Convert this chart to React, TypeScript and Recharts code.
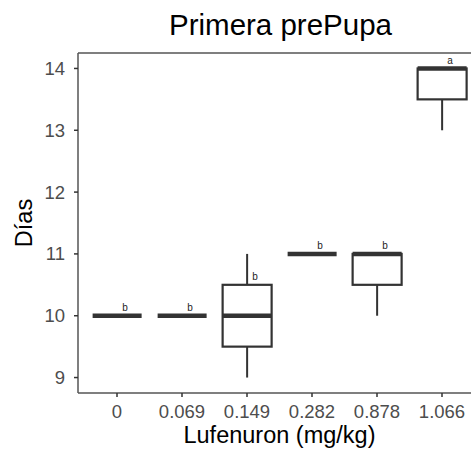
import React from 'react';
import { ComposedChart, Bar, XAxis, YAxis, ReferenceLine, Customized } from 'recharts';

const categories = ['0', '0.069', '0.149', '0.282', '0.878', '1.066'];
const mins = [10, 10, 9, 11, 10, 13];
const q1s = [10, 10, 9.5, 11, 10.5, 13.5];
const medians = [10, 10, 10, 11, 11, 14];
const q3s = [10, 10, 10.5, 11, 11, 14];
const maxs = [10, 10, 11, 11, 11, 14];
const letters = ['b', 'b', 'b', 'b', 'b', 'a'];
const yTicks = [9, 10, 11, 12, 13, 14];
const yDomain: [number, number] = [8.75, 14.25];

const data = categories.map((c, i) => ({
  cat: c,
  min: mins[i],
  q1: q1s[i],
  median: medians[i],
  q3: q3s[i],
  max: maxs[i],
  letter: letters[i],
}));

const FONT = '"Liberation Sans", Arial, Helvetica, sans-serif';
const BOX = '#333333';

const BoxShape = (props: any) => {
  const { x, y, width, height, payload } = props;
  const { min, q1, median, q3, max, letter } = payload;
  const top = Math.min(y, y + height);
  const h = Math.abs(height);
  const span = max - min;
  const toY = (v: number) => (span > 0 ? top + ((max - v) / span) * h : top);
  const cx = x + width / 2;
  const yMin = toY(min), yQ1 = toY(q1), yMed = toY(median), yQ3 = toY(q3), yMax = toY(max);
  return (
    <g>
      {yMax < yQ3 && <line x1={cx} x2={cx} y1={yMax} y2={yQ3} stroke={BOX} strokeWidth={2} />}
      {yQ1 < yMin && <line x1={cx} x2={cx} y1={yQ1} y2={yMin} stroke={BOX} strokeWidth={2} />}
      {yQ1 - yQ3 > 0 && (
        <rect x={x} y={yQ3} width={width} height={yQ1 - yQ3} fill="#ffffff" stroke={BOX} strokeWidth={2.2} />
      )}
      <line x1={x} x2={x + width} y1={yMed} y2={yMed} stroke={BOX} strokeWidth={4.5} />
      <text x={cx + 8} y={yQ3 - 8} textAnchor="middle" dominantBaseline="central" fontSize={10} fill="#222" fontFamily={FONT}>
        {letter}
      </text>
    </g>
  );
};

export default function App() {
  return (
    <div style={{ position: 'absolute', left: 0, top: 0, width: 471, height: 451, overflow: 'hidden', background: '#fff' }}>
      <ComposedChart
        width={481}
        height={451}
        data={data}
        margin={{ top: 53, right: 0, bottom: 0, left: 0 }}
        barCategoryGap="12.5%"
        style={{ fontFamily: FONT }}
      >
        <ReferenceLine y={yDomain[1]} stroke="#555" strokeWidth={1.5} ifOverflow="extendDomain" />
        <XAxis
          dataKey="cat"
          height={58}
          padding={{ left: 6.5, right: 6.5 }}
          tickSize={4}
          tickLine={{ stroke: '#333', strokeWidth: 1.5 }}
          axisLine={{ stroke: '#555', strokeWidth: 1.5 }}
          tick={{ fill: '#4d4d4d', fontSize: 18.5, fontFamily: FONT }}
          tickMargin={7.5}
          label={{ value: 'Lufenuron (mg/kg)', position: 'insideBottom', offset: 8, fill: '#000', fontSize: 23.5, fontFamily: FONT }}
        />
        <YAxis
          width={78}
          domain={yDomain}
          ticks={yTicks}
          type="number"
          tickSize={4}
          tickLine={{ stroke: '#333', strokeWidth: 1.5 }}
          axisLine={{ stroke: '#555', strokeWidth: 1.5 }}
          tick={{ fill: '#4d4d4d', fontSize: 18.5, fontFamily: FONT }}
          tickMargin={9}
          label={{ value: 'Días', angle: -90, position: 'insideLeft', offset: 24, fill: '#000', fontSize: 23.5, fontFamily: FONT, style: { textAnchor: 'middle' } }}
        />
        <Bar
          dataKey={(d: any) => [d.min, d.max]}
          shape={BoxShape}
          isAnimationActive={false}
          activeBar={false}
        />
        <Customized
          component={() => (
            <text x={280.5} y={35} textAnchor="middle" fontSize={29.5} fill="#000" fontFamily={FONT}>
              Primera prePupa
            </text>
          )}
        />
      </ComposedChart>
    </div>
  );
}
